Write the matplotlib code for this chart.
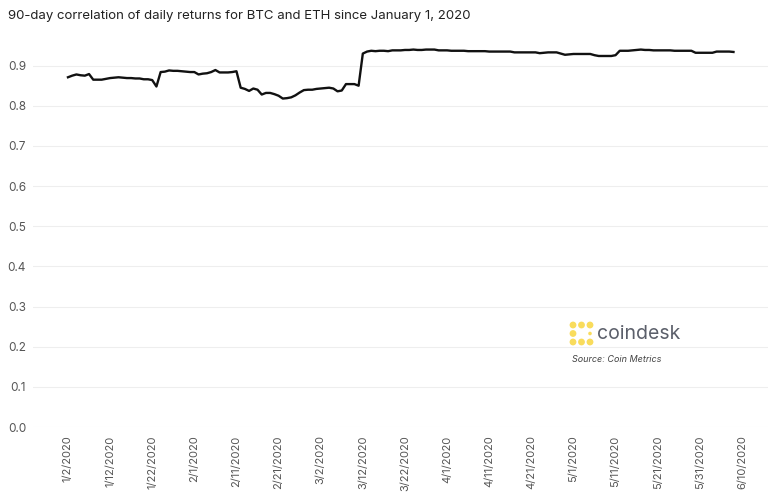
import numpy as np
import pandas as pd
import matplotlib
matplotlib.use("Agg")
import matplotlib.pyplot as plt
import matplotlib.dates as mdates
from matplotlib.patches import Circle

plt.rcParams['font.family'] = ['Inter', 'DejaVu Sans']

start_date = "2020-01-02"
correlation = [
    0.871, 0.875, 0.878, 0.876, 0.875, 0.879, 0.865, 0.865, 0.865, 0.867,
    0.869, 0.870, 0.871, 0.870, 0.869, 0.869, 0.868, 0.868, 0.866, 0.866,
    0.864, 0.848, 0.884, 0.885, 0.888, 0.887, 0.887, 0.886, 0.885, 0.884,
    0.884, 0.878, 0.880, 0.881, 0.884, 0.889, 0.883, 0.883, 0.883, 0.884,
    0.886, 0.845, 0.842, 0.837, 0.843, 0.840, 0.828, 0.832, 0.832, 0.829,
    0.825, 0.818, 0.819, 0.821, 0.826, 0.833, 0.839, 0.840, 0.840, 0.842,
    0.843, 0.844, 0.845, 0.843, 0.836, 0.838, 0.854, 0.854, 0.854, 0.850,
    0.930, 0.935, 0.937, 0.936, 0.937, 0.937, 0.936, 0.938, 0.938, 0.938,
    0.939, 0.939, 0.940, 0.939, 0.939, 0.940, 0.940, 0.940, 0.938, 0.938,
    0.938, 0.937, 0.937, 0.937, 0.937, 0.936, 0.936, 0.936, 0.936, 0.936,
    0.935, 0.935, 0.935, 0.935, 0.935, 0.935, 0.933, 0.933, 0.933, 0.933,
    0.933, 0.933, 0.931, 0.932, 0.933, 0.933, 0.933, 0.930, 0.927, 0.928,
    0.929, 0.929, 0.929, 0.929, 0.929, 0.926, 0.924, 0.924, 0.924, 0.924,
    0.926, 0.937, 0.937, 0.937, 0.938, 0.939, 0.940, 0.939, 0.939, 0.938,
    0.938, 0.938, 0.938, 0.938, 0.937, 0.937, 0.937, 0.937, 0.937, 0.932,
    0.932, 0.932, 0.932, 0.932, 0.935, 0.935, 0.935, 0.935, 0.934,
]
dates = pd.date_range(start_date, periods=len(correlation), freq="D")
tick_dates = pd.date_range("2020-01-02", "2020-06-10", freq="10D")
y_ticks = [0.0, 0.1, 0.2, 0.3, 0.4, 0.5, 0.6, 0.7, 0.8, 0.9]

fig = plt.figure(figsize=(7.75, 5.0), dpi=100)
ax = fig.add_axes([0.0426, 0.146, 0.9484, 0.787])
ax.plot(dates, correlation, color="#111111", lw=1.7, solid_joinstyle="round")

d0 = mdates.date2num(pd.Timestamp("2020-01-02"))
ax.set_xlim(d0 - 8.3, d0 + 166.2)
ax.set_ylim(0, 0.98)
ax.set_yticks(y_ticks)
ax.set_yticklabels([f"{v:.1f}" for v in y_ticks])
ax.set_xticks(mdates.date2num(tick_dates))
ax.set_xticklabels([f"{d.month}/{d.day}/{d.year}" for d in tick_dates], rotation=90)
ax.tick_params(axis="both", length=0, colors="#555555", labelsize=8)
ax.tick_params(axis="y", labelsize=8.5, pad=5)
ax.tick_params(axis="x", pad=6)
ax.grid(axis="y", color="#eeeeee", lw=0.8)
ax.set_axisbelow(True)
for s in ax.spines.values():
    s.set_visible(False)

fig.text(0.010, 0.968, "90-day correlation of daily returns for BTC and ETH since January 1, 2020",
         fontsize=9.5, color="#222222", va="center", ha="left")

# coindesk logo drawn on a pixel-coordinate overlay
ov = fig.add_axes([0, 0, 1, 1], facecolor="none")
ov.set_xlim(0, 775)
ov.set_ylim(500, 0)
ov.axis("off")
yellow = "#f9dc5c"
cx0, cy0 = 573, 325
step = 8.5
dots = [(0, 0), (1, 0), (2, 0), (0, 1), (0, 2), (1, 2), (2, 2), (2, 1)]
for i, j in dots:
    small = (i, j) == (2, 1)
    r = 3.4 if not small else 1.8
    ov.add_patch(Circle((cx0 + i * step, cy0 + j * step), r, color=yellow, lw=0))
ov.text(597, 334, "coindesk", fontsize=14, color="#5b5f6a", va="center", ha="left")
ov.text(572, 360, "Source: Coin Metrics", fontsize=6.5, color="#444444",
        style="italic", va="center", ha="left")

fig.savefig("out.png", dpi=100)
